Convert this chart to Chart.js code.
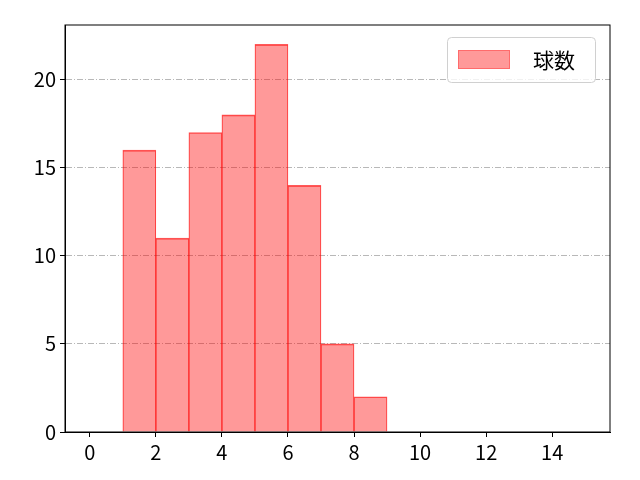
<!DOCTYPE html>
<html>
<head>
<meta charset="utf-8">
<script src="https://cdn.jsdelivr.net/npm/chart.js@4/dist/chart.umd.min.js"></script>
<style>
  html, body { margin: 0; padding: 0; background: #fff; }
  #wrap { width: 640px; height: 480px; }
</style>
</head>
<body>
<div id="wrap"><canvas id="hist"></canvas></div>
<script>
// histogram bins (left edges) and counts
const binStarts = [0, 1, 2, 3, 4, 5, 6, 7, 8, 9, 10, 11, 12, 13, 14];
const counts = [0, 16, 11, 17, 18, 22, 14, 5, 2, 0, 0, 0, 0, 0, 0];
const xTicks = [0, 2, 4, 6, 8, 10, 12, 14];
const yTicks = [0, 5, 10, 15, 20];
const seriesLabel = '球数';

const FONT = '"Noto Sans CJK JP", "Noto Sans", sans-serif';
Chart.defaults.font.family = FONT;
Chart.defaults.color = '#000';

// box around the plot + legend inside the plot area, like matplotlib
const frameAndLegend = {
  id: 'frameAndLegend',
  afterDraw(chart) {
    const { ctx, chartArea: a } = chart;
    ctx.save();
    ctx.setLineDash([]);
    ctx.strokeStyle = '#000';
    ctx.lineWidth = 1;
    ctx.strokeRect(a.left, a.top, a.right - a.left, a.bottom - a.top);

    // legend
    const bx = 447.5, by = 37.5, bw = 148, bh = 45;
    ctx.fillStyle = 'rgba(255,255,255,0.8)';
    ctx.strokeStyle = '#d0d0d0';
    ctx.beginPath();
    ctx.roundRect(bx, by, bw, bh, 4);
    ctx.fill();
    ctx.stroke();
    ctx.fillStyle = 'rgba(255,0,0,0.4)';
    ctx.fillRect(458, 50, 52, 19);
    ctx.strokeStyle = 'rgba(255,0,0,0.3)';
    ctx.strokeRect(458.5, 50.5, 51, 18);
    ctx.fillStyle = '#000';
    ctx.font = '21px ' + FONT;
    ctx.textBaseline = 'middle';
    ctx.fillText(seriesLabel, 533, 60);
    ctx.restore();
  }
};

new Chart(document.getElementById('hist'), {
  type: 'bar',
  data: {
    datasets: [{
      label: seriesLabel,
      data: binStarts.map((b, i) => ({ x: b + 0.5, y: counts[i] })),
      backgroundColor: 'rgba(255,0,0,0.4)',
      borderColor: 'rgba(255,0,0,0.65)',
      borderWidth: { top: 1, left: 0.5, right: 0.5, bottom: 0 },
      borderSkipped: 'start',
      barPercentage: 1,
      categoryPercentage: 1
    }]
  },
  options: {
    responsive: true,
    maintainAspectRatio: false,
    animation: false,
    layout: { padding: { left: 0, right: 30, top: 25, bottom: 0 } },
    plugins: { legend: { display: false }, tooltip: { enabled: false } },
    scales: {
      x: {
        type: 'linear',
        offset: false,
        min: -0.75,
        max: 15.75,
        afterBuildTicks: s => { s.ticks = xTicks.map(v => ({ value: v })); },
        afterFit: s => { s.height = 48; },
        grid: { drawOnChartArea: false, offset: false, tickLength: 5, tickColor: '#000' },
        border: { color: '#000', width: 1 },
        ticks: { font: { size: 20 }, padding: 3, color: '#000', maxRotation: 0 }
      },
      y: {
        min: 0,
        max: 23.1,
        afterBuildTicks: s => { s.ticks = yTicks.map(v => ({ value: v })); },
        afterFit: s => { s.width = 65; },
        grid: {
          color: '#b8b8b8',
          lineWidth: 1,
          tickColor: '#000',
          tickBorderDash: [],
          tickLength: 5
        },
        border: { color: '#000', width: 1, dash: [6, 2, 1, 2] },
        ticks: { font: { size: 20 }, padding: 4, color: '#000' }
      }
    }
  },
  plugins: [frameAndLegend]
});
</script>
</body>
</html>
